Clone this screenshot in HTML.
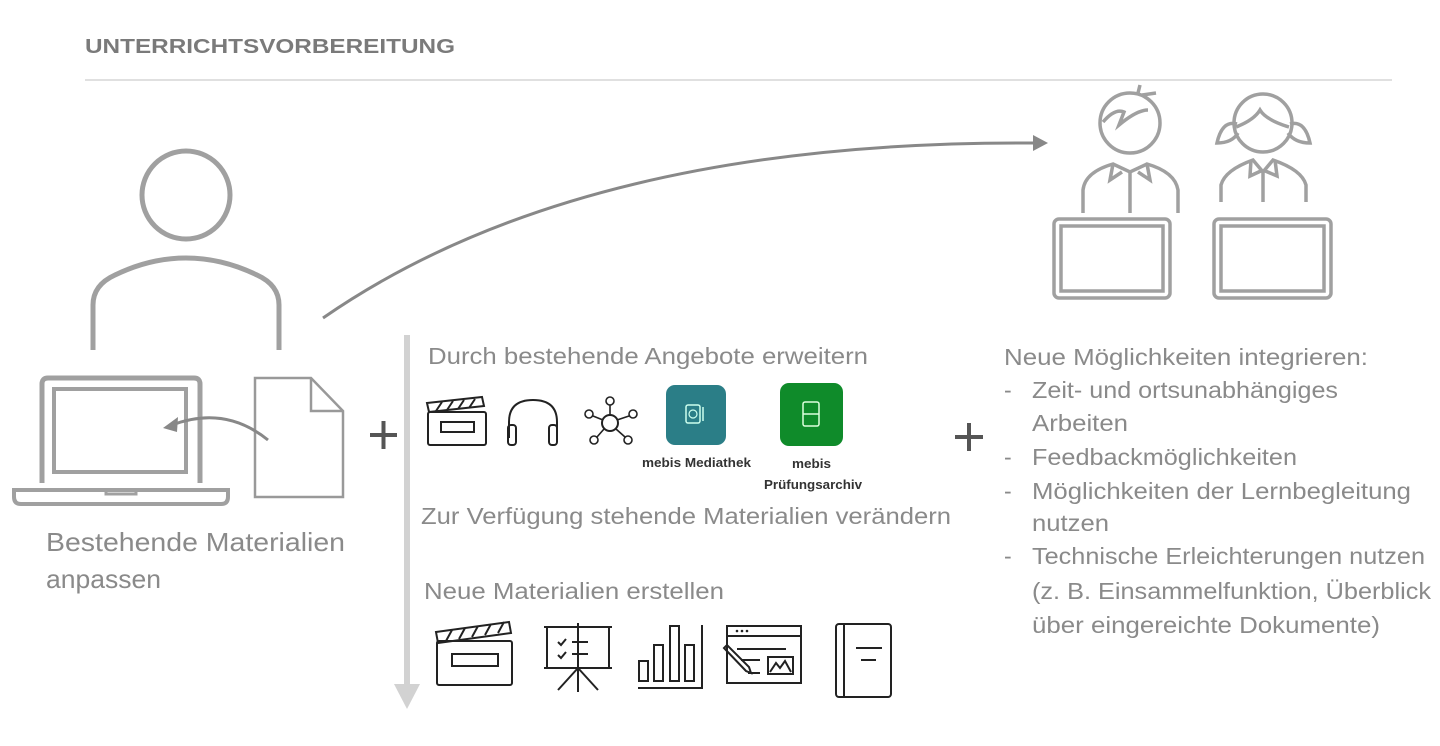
<!DOCTYPE html>
<html><head><meta charset="utf-8"><style>
html,body{margin:0;padding:0;background:#fff;}
svg{display:block;}
text{font-family:"Liberation Sans",sans-serif;}
</style></head><body>
<svg width="1440" height="746" viewBox="0 0 1440 746" xmlns="http://www.w3.org/2000/svg">
<text x="85" y="53" font-size="20" font-weight="bold" fill="#7a7a7a" textLength="370" lengthAdjust="spacingAndGlyphs">UNTERRICHTSVORBEREITUNG</text>
<line x1="85" y1="80" x2="1392" y2="80" stroke="#d6d6d6" stroke-width="1.5"/>

<!-- teacher -->
<g fill="none" stroke="#a0a0a0" stroke-width="5">
<circle cx="186" cy="195" r="44"/>
<path d="M93,350 V305 Q93,285 115,275 Q150,258 186,258 Q222,258 257,275 Q279,285 279,305 V350"/>
<path d="M42,483 V384 Q42,378 48,378 H194 Q200,378 200,384 V483"/>
<rect x="54" y="389" width="132" height="83" stroke-width="4"/>
<path d="M14,490 H228 V497 Q228,504 221,504 H21 Q14,504 14,497 Z" stroke-width="4"/>
<path d="M106,490 V494 H136 V490" stroke-width="3"/>
</g>
<g fill="none" stroke="#999" stroke-width="2.5">
<path d="M255,378 H311 L343,411 V497 H255 Z"/>
<path d="M311,378 V411 H343"/>
</g>
<path d="M268,440 Q225,405 172,425" fill="none" stroke="#888" stroke-width="3"/>
<polygon points="163,428 178,417 177,432" fill="#888"/>
<text x="46" y="551" font-size="26" fill="#8a8a8a" textLength="299" lengthAdjust="spacingAndGlyphs">Bestehende Materialien</text>
<text x="46" y="588" font-size="26" fill="#8a8a8a" textLength="115" lengthAdjust="spacingAndGlyphs">anpassen</text>

<!-- big arrow -->
<path d="M323,318 Q580,140 1035,143" fill="none" stroke="#888" stroke-width="3"/>
<polygon points="1048,143 1033,135 1033,151" fill="#888"/>

<!-- plus signs -->
<g stroke="#555" stroke-width="4">
<line x1="370" y1="435" x2="397" y2="435"/><line x1="383.5" y1="421" x2="383.5" y2="449"/>
<line x1="955" y1="437" x2="983" y2="437"/><line x1="969" y1="423" x2="969" y2="451"/>
</g>

<!-- vertical arrow -->
<line x1="407" y1="335" x2="407" y2="685" stroke="#d2d2d2" stroke-width="6"/>
<polygon points="394,684 420,684 407,709" fill="#d2d2d2"/>

<g font-size="23" fill="#8a8a8a">
<text x="428" y="364" textLength="440" lengthAdjust="spacingAndGlyphs">Durch bestehende Angebote erweitern</text>
<text x="421" y="524" textLength="530" lengthAdjust="spacingAndGlyphs">Zur Verfügung stehende Materialien verändern</text>
<text x="424" y="599" textLength="300" lengthAdjust="spacingAndGlyphs">Neue Materialien erstellen</text>
</g>

<!-- icons row 1 -->
<g fill="none" stroke="#222" stroke-width="2">
<rect x="428" y="412" width="58" height="33" rx="2"/>
<rect x="441" y="422" width="33" height="10"/>
<path d="M427,403 L482,397 L484,406 L429,412 Z"/>
<path d="M436,411 L442,402 M447,410 L453,401 M458,409 L464,400 M469,408 L475,399"/>
<path d="M509,438 V422 Q509,400 533,400 Q557,400 557,422 V438"/>
<rect x="508" y="425" width="8" height="20" rx="3"/>
<rect x="549" y="425" width="8" height="20" rx="3"/>
<circle cx="610" cy="423" r="8"/>
<g stroke-width="1.6">
<circle cx="610" cy="401" r="4"/><circle cx="589" cy="414" r="4"/><circle cx="633" cy="414" r="4"/>
<circle cx="594" cy="440" r="4"/><circle cx="628" cy="440" r="4"/>
<path d="M610,405 V415 M593,416 L603,420 M629,416 L617,420 M597,437 L604,429 M625,437 L616,429"/>
</g>
</g>
<rect x="666" y="385" width="60" height="60" rx="9" fill="#2b7e87"/>
<rect x="686" y="405" width="14" height="18" rx="2" fill="none" stroke="#cfe" stroke-width="1.5"/>
<circle cx="693" cy="414" r="4" fill="none" stroke="#cfe" stroke-width="1.2"/>
<line x1="703" y1="407" x2="703" y2="421" stroke="#cfe" stroke-width="1.5"/>
<rect x="780" y="383" width="63" height="63" rx="9" fill="#0f8b2a"/>
<rect x="803" y="402" width="16" height="24" rx="2" fill="none" stroke="#dfd" stroke-width="1.5"/>
<line x1="803" y1="414" x2="819" y2="414" stroke="#dfd" stroke-width="1.5"/>
<g font-size="13" font-weight="bold" fill="#333">
<text x="642" y="467" textLength="109" lengthAdjust="spacingAndGlyphs">mebis Mediathek</text>
<text x="792" y="468" textLength="39" lengthAdjust="spacingAndGlyphs">mebis</text>
<text x="764" y="489" textLength="98" lengthAdjust="spacingAndGlyphs">Prüfungsarchiv</text>
</g>

<!-- icons row 2 -->
<g fill="none" stroke="#222" stroke-width="2">
<rect x="437" y="641" width="75" height="44" rx="2"/>
<rect x="452" y="654" width="46" height="12"/>
<path d="M436,632 L509,622 L511,633 L438,643 Z"/>
<path d="M446,641 L452,630 M459,639 L465,628 M472,637 L478,626 M485,635 L491,624 M498,633 L504,622"/>
<path d="M544,627 H612 M547,627 V668 M609,627 V668 M544,668 H612 M578,623 V692 M578,668 L558,690 M578,668 L598,690"/>
<path d="M558,642 l3,3 l5,-6 M558,655 l3,3 l5,-6 M572,642 H588 M572,654 H588"/>
<rect x="639" y="661" width="9" height="20"/><rect x="654" y="645" width="9" height="36"/>
<rect x="670" y="626" width="9" height="55"/><rect x="685" y="645" width="9" height="36"/>
<path d="M638,688 H702 V625"/>
<rect x="727" y="626" width="74" height="57"/>
<line x1="727" y1="636" x2="801" y2="636"/>
<path d="M737,649 H786 M741,660 H760 M748,673 H760"/>
<rect x="768" y="657" width="25" height="17"/>
<path d="M770,672 L776,663 L780,668 L785,661 L791,672"/>
<path d="M724,648 L746,671 L751,673 L749,667 L727,645 Z"/>
<rect x="836" y="624" width="55" height="73" rx="3"/>
<line x1="844" y1="624" x2="844" y2="697"/>
<path d="M856,648 H882 M861,660 H876"/>
</g>
<g fill="#222"><circle cx="737" cy="631" r="1.3"/><circle cx="742" cy="631" r="1.3"/><circle cx="747" cy="631" r="1.3"/></g>

<!-- students -->
<g fill="none" stroke="#a0a0a0" stroke-width="3.5">
<circle cx="1130" cy="123" r="30"/>
<path d="M1103,122 Q1115,108 1124,112 L1119,125 Q1137,110 1148,110"/>
<path d="M1138,93 L1140,85 M1142,95 L1156,93"/>
<path d="M1083,213 V190 Q1085,172 1113,164 L1130,172 L1147,164 Q1175,172 1178,190 V213"/>
<path d="M1113,164 L1110,180 L1122,172 M1147,164 L1150,180 L1138,172 M1130,172 V213"/>
<rect x="1054" y="219" width="116" height="79" rx="5"/>
<rect x="1061" y="226" width="102" height="65"/>
<circle cx="1263" cy="123" r="29"/>
<path d="M1236,127 Q1254,120 1260,110 Q1266,120 1289,127"/>
<path d="M1237,124 Q1222,120 1217,143 Q1232,143 1238,133 M1290,124 Q1305,120 1310,143 Q1295,143 1288,133"/>
<path d="M1221,202 V185 Q1225,170 1253,160 L1263,172 L1273,160 Q1302,170 1306,185 V202"/>
<path d="M1251,160 L1250,176 L1263,170 M1275,160 L1277,176 L1263,170 M1263,172 V202"/>
<rect x="1214" y="219" width="117" height="79" rx="5"/>
<rect x="1221" y="226" width="103" height="65"/>
</g>

<!-- right list -->
<g font-size="23" fill="#8a8a8a">
<text x="1004" y="365" textLength="364" lengthAdjust="spacingAndGlyphs">Neue Möglichkeiten integrieren:</text>
<text x="1004" y="398">-</text><text x="1032" y="398" textLength="306" lengthAdjust="spacingAndGlyphs">Zeit- und ortsunabhängiges</text>
<text x="1032" y="431" textLength="96" lengthAdjust="spacingAndGlyphs">Arbeiten</text>
<text x="1004" y="465">-</text><text x="1032" y="465" textLength="265" lengthAdjust="spacingAndGlyphs">Feedbackmöglichkeiten</text>
<text x="1004" y="499">-</text><text x="1032" y="499" textLength="379" lengthAdjust="spacingAndGlyphs">Möglichkeiten der Lernbegleitung</text>
<text x="1032" y="531" textLength="77" lengthAdjust="spacingAndGlyphs">nutzen</text>
<text x="1004" y="564">-</text><text x="1032" y="564" textLength="393" lengthAdjust="spacingAndGlyphs">Technische Erleichterungen nutzen</text>
<text x="1032" y="599" textLength="399" lengthAdjust="spacingAndGlyphs">(z. B. Einsammelfunktion, Überblick</text>
<text x="1032" y="633" textLength="348" lengthAdjust="spacingAndGlyphs">über eingereichte Dokumente)</text>
</g>
</svg>
</body></html>
